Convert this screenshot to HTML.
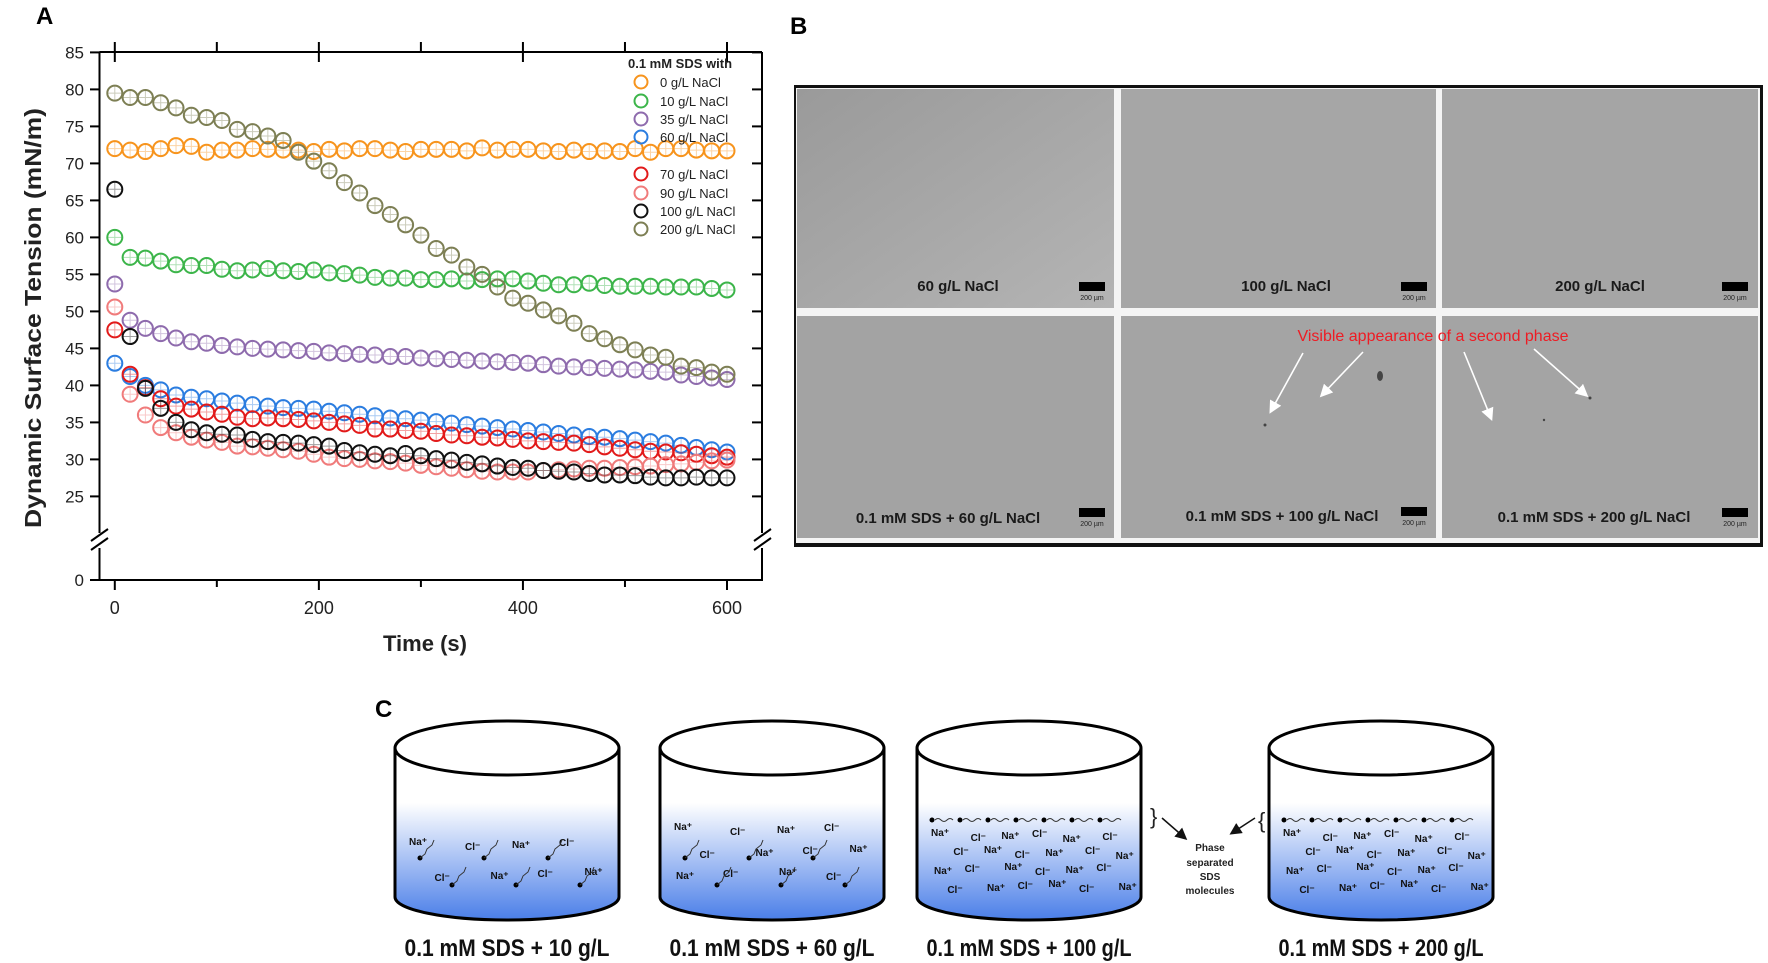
<!DOCTYPE html>
<html><head><meta charset="utf-8"><style>
html,body{margin:0;padding:0;background:#fff;}
svg{display:block;font-family:"Liberation Sans",Arial,sans-serif;}
</style></head><body>
<svg id="fig" width="1768" height="963" viewBox="0 0 1768 963" xmlns="http://www.w3.org/2000/svg">
<defs>
<linearGradient id="water" x1="0" y1="0" x2="0" y2="1">
<stop offset="0" stop-color="#ffffff"/><stop offset="1" stop-color="#4a7ee8"/>
</linearGradient>
<linearGradient id="img1" x1="0" y1="0" x2="1" y2="1">
<stop offset="0" stop-color="#9a9a9a"/><stop offset="1" stop-color="#b4b4b4"/>
</linearGradient>
<marker id="ah" markerWidth="8" markerHeight="8" refX="6" refY="4" orient="auto"><path d="M0,0 L8,4 L0,8 z" fill="#fff"/></marker>
<marker id="ahk" markerWidth="8" markerHeight="8" refX="6" refY="4" orient="auto"><path d="M0,0 L8,4 L0,8 z" fill="#111"/></marker>
</defs>

<text x="36" y="24" font-size="24" font-weight="bold">A</text>
<g id="chartA"></g>

<text x="790" y="34" font-size="24" font-weight="bold">B</text>
<g>
<rect x="794" y="85" width="969" height="462" fill="#111"/>
<rect x="796" y="88" width="964" height="455" fill="#f4f4f4"/>
<rect x="797" y="89" width="317" height="219" fill="url(#img1)"/>
<rect x="1121" y="89" width="315" height="219" fill="#a6a6a6"/>
<rect x="1442" y="89" width="316" height="219" fill="#a5a5a5"/>
<rect x="797" y="316" width="317" height="222" fill="#a3a3a3"/>
<rect x="1121" y="316" width="315" height="222" fill="#a4a4a4"/>
<rect x="1442" y="316" width="316" height="222" fill="#a4a4a4"/>
<g font-weight="bold" font-size="15" fill="#1a1a1a" text-anchor="middle">
<text x="958" y="291">60 g/L NaCl</text>
<text x="1286" y="291">100 g/L NaCl</text>
<text x="1600" y="291">200 g/L NaCl</text>
<text x="948" y="523">0.1 mM SDS + 60 g/L NaCl</text>
<text x="1282" y="521">0.1 mM SDS + 100 g/L NaCl</text>
<text x="1594" y="522">0.1 mM SDS + 200 g/L NaCl</text>
</g>
<g fill="#000">
<rect x="1079" y="282" width="26" height="9"/><rect x="1401" y="282" width="26" height="9"/><rect x="1722" y="282" width="26" height="9"/>
<rect x="1079" y="508" width="26" height="9"/><rect x="1401" y="507" width="26" height="9"/><rect x="1722" y="508" width="26" height="9"/>
</g>
<g font-size="7" fill="#222" text-anchor="middle">
<text x="1092" y="300">200 µm</text><text x="1414" y="300">200 µm</text><text x="1735" y="300">200 µm</text>
<text x="1092" y="526">200 µm</text><text x="1414" y="525">200 µm</text><text x="1735" y="526">200 µm</text>
</g>
<text x="1433" y="341" font-size="16" fill="#ee1c24" text-anchor="middle">Visible appearance of a second phase</text>
<g stroke="#fff" stroke-width="1.6" marker-end="url(#ah)">
<line x1="1303" y1="353" x2="1271" y2="411"/><line x1="1363" y1="352" x2="1322" y2="395"/>
<line x1="1464" y1="352" x2="1491" y2="418"/><line x1="1534" y1="349" x2="1586" y2="395"/>
</g>
<g fill="#444"><ellipse cx="1380" cy="376" rx="3" ry="5"/><circle cx="1265" cy="425" r="1.5"/><circle cx="1590" cy="398" r="1.5"/><circle cx="1544" cy="420" r="1.2"/></g>
</g>

<text x="375" y="717" font-size="24" font-weight="bold">C</text>
<g id="panelC"></g>
<g font-size="10" font-weight="bold" fill="#222" text-anchor="middle">
<text x="1210" y="851">Phase</text><text x="1210" y="866">separated</text><text x="1210" y="880">SDS</text><text x="1210" y="894">molecules</text>
</g>
<text x="1150" y="824" font-size="22" fill="#222">}</text>
<text x="1258" y="828" font-size="22" fill="#222">{</text>
<g stroke="#111" stroke-width="1.5" marker-end="url(#ahk)">
<line x1="1162" y1="818" x2="1185" y2="838"/><line x1="1255" y1="818" x2="1232" y2="833"/>
</g>
</svg>
<script>
const times = Array.from({length:41},(_,i)=>i*15);
const seriesNames = ["0 g/L NaCl","10 g/L NaCl","35 g/L NaCl","60 g/L NaCl","70 g/L NaCl","90 g/L NaCl","100 g/L NaCl","200 g/L NaCl"];
const seriesColors = ["#f7941d","#3cb54a","#8e6bad","#2b7de0","#e21a1a","#f07b7b","#111111","#7d7f54"];
const s0 = [72,71.8,71.6,72,72.4,72.3,71.5,71.8,71.8,72,71.9,71.8,71.8,71.6,71.9,71.7,72,72,71.8,71.6,71.9,71.9,71.9,71.7,72.1,71.8,71.9,71.9,71.7,71.6,71.8,71.6,71.7,71.6,72,71.5,72,72,71.8,71.7,71.7];
const s10 = [60,57.3,57.2,56.8,56.3,56.2,56.2,55.7,55.5,55.6,55.8,55.5,55.4,55.6,55.2,55.1,54.9,54.6,54.5,54.5,54.3,54.3,54.4,54.1,54.3,54.4,54.4,54.1,53.8,53.6,53.6,53.8,53.5,53.4,53.4,53.4,53.3,53.3,53.3,53.1,52.9];
const s35 = [53.7,48.8,47.7,47.0,46.4,45.9,45.7,45.4,45.2,45.0,44.9,44.8,44.7,44.6,44.4,44.3,44.2,44.1,43.9,43.9,43.7,43.6,43.5,43.4,43.3,43.2,43.1,43.0,42.8,42.6,42.5,42.4,42.3,42.2,42.1,41.9,41.8,41.4,41.2,41.0,40.8];
const s60 = [43,41.2,40,39.4,38.7,38.4,38.2,37.9,37.6,37.4,37.2,37.0,36.9,36.8,36.5,36.3,36.1,35.9,35.6,35.5,35.3,35.1,34.9,34.7,34.5,34.3,34.1,33.9,33.7,33.5,33.3,33.1,33.0,32.8,32.6,32.4,32.2,31.9,31.6,31.3,31.0];
const s70 = [47.5,41.5,39.7,38.2,37.2,36.8,36.4,36.1,35.7,35.5,35.6,35.5,35.4,35.2,35.0,34.8,34.6,34.1,34.1,33.9,33.8,33.5,33.3,33.2,33.0,32.9,32.7,32.5,32.4,32.3,32.2,32.0,31.7,31.5,31.3,31.1,31.0,30.9,30.7,30.5,30.3];
const s90 = [50.6,38.8,36,34.3,33.6,33.0,32.6,32.3,31.8,31.7,31.5,31.3,31.1,30.7,30.3,30.1,30.0,29.8,29.7,29.5,29.2,29.0,28.8,28.6,28.4,28.3,28.3,28.3,28.5,28.6,28.7,28.8,28.8,28.9,29.0,29.1,29.3,29.4,29.6,29.8,29.9];
const s100 = [66.5,46.6,39.6,36.9,35.0,34.0,33.6,33.4,33.3,32.7,32.4,32.3,32.2,32.0,31.8,31.2,30.9,30.7,30.5,30.8,30.5,30.1,29.9,29.6,29.4,29.1,28.9,28.8,28.5,28.4,28.3,28.1,27.9,27.9,27.8,27.6,27.5,27.5,27.6,27.5,27.5];
const s200 = [79.5,78.9,78.9,78.2,77.5,76.5,76.2,75.8,74.6,74.3,73.7,73.1,71.5,70.3,69.0,67.4,66.0,64.3,63.1,61.7,60.3,58.5,57.6,56.0,55.0,53.3,51.8,51.1,50.2,49.4,48.4,47.0,46.3,45.5,44.8,44.1,43.8,42.6,42.4,41.8,41.5];
const yTicks = [25,30,35,40,45,50,55,60,65,70,75,80,85];
const xTicks = [0,200,400,600];

const NS="http://www.w3.org/2000/svg";
function mk(tag,attrs,parent){const e=document.createElementNS(NS,tag);for(const k in attrs)e.setAttribute(k,attrs[k]);parent.appendChild(e);return e;}
const X = t => 114.8 + t*(612.2/600);
const Y = v => v===0 ? 580 : 52.4 + (85-v)*7.4;
const g = document.getElementById('chartA');
let ax = mk('path',{d:'M99.5,52 H762 M99.5,52 V533 M99.5,548 V580 H762 V548 M762,533 V52',fill:'none',stroke:'#000','stroke-width':2},g);


mk('path',{d:'M91,541 L108,529 M91,550 L108,538 M754,541 L771,529 M754,550 L771,538',stroke:'#000','stroke-width':2,fill:'none'},g);
yTicks.forEach(v=>{
  mk('line',{x1:90,x2:99.5,y1:Y(v),y2:Y(v),stroke:'#000','stroke-width':2},g);
  mk('line',{x1:752,x2:762,y1:Y(v),y2:Y(v),stroke:'#000','stroke-width':2},g);
  const t=mk('text',{x:84,y:Y(v)+6,'font-size':17,'text-anchor':'end',fill:'#222'},g);t.textContent=v;
  
  
});
mk('line',{x1:90,x2:99.5,y1:580,y2:580,stroke:'#000','stroke-width':2},g);
const z=mk('text',{x:84,y:586,'font-size':17,'text-anchor':'end',fill:'#222'},g);z.textContent='0';
[0,100,200,300,400,500,600].forEach(t=>{
  const big = t%200===0;
  mk('line',{x1:X(t),x2:X(t),y1:580,y2:big?590:587,stroke:'#000','stroke-width':2},g);
  mk('line',{x1:X(t),x2:X(t),y1:42,y2:big?62:52,stroke:'#000','stroke-width':2},g);
});
xTicks.forEach(t=>{
  const l=mk('text',{x:X(t),y:614,'font-size':18,'text-anchor':'middle',fill:'#222'},g);l.textContent=t;
  
  
});
const xt=mk('text',{x:425,y:651,'font-size':22,'font-weight':'bold','text-anchor':'middle',fill:'#222'},g);xt.textContent='Time (s)';


const yt=mk('text',{x:0,y:0,'font-size':23,'font-weight':'bold','text-anchor':'middle',fill:'#222',transform:'translate(41,318) rotate(-90)',textLength:420,lengthAdjust:'spacingAndGlyphs'},g);yt.textContent='Dynamic Surface Tension (mN/m)';


const allSeries=[s0,s10,s35,s60,s70,s90,s100,s200];
allSeries.forEach((arr,si)=>{
  const sg=mk('g',{},g);
  
  
  arr.forEach((v,i)=>{
    const cx=X(times[i]), cy=Y(v);
    mk('path',{d:`M${cx-7},${cy} H${cx+7} M${cx},${cy-7} V${cy+7}`,stroke:seriesColors[si],'stroke-opacity':0.4,'stroke-width':1},sg);
    const c=mk('circle',{cx:cx,cy:cy,r:7.5,fill:'none',stroke:seriesColors[si],'stroke-width':2},sg);
    
    
  });
});
const lg=mk('g',{},g);


const lt=mk('text',{x:628,y:68,'font-size':13,'font-weight':'bold',fill:'#222'},lg);lt.textContent='0.1 mM SDS with';
const legY=[82,101,119,137,174,193,211,229];
seriesNames.forEach((n,i)=>{
  const e=mk('g',{},lg);
  
  
  mk('circle',{cx:641,cy:legY[i],r:6.5,fill:'none',stroke:seriesColors[i],'stroke-width':2},e);
  const t=mk('text',{x:660,y:legY[i]+5,'font-size':13,fill:'#222'},e);t.textContent=n;
});

const pc=document.getElementById('panelC');
const beakers=[{x:395,lab:"0.1 mM SDS + 10 g/L",mode:0},{x:660,lab:"0.1 mM SDS + 60 g/L",mode:1},{x:917,lab:"0.1 mM SDS + 100 g/L",mode:2},{x:1269,lab:"0.1 mM SDS + 200 g/L",mode:3}];
beakers.forEach((b,bi)=>{
  const w=224, l=b.x, r=b.x+w, cx=b.x+w/2;
  const bg=mk('g',{},pc);
  
  
  mk('path',{d:`M${l},803 V897 A${w/2},23 0 0 0 ${r},897 V803 Z`,fill:'url(#water)'},bg);
  mk('path',{d:`M${l},748 V897 A${w/2},23 0 0 0 ${r},897 V748`,fill:'none',stroke:'#000','stroke-width':3},bg);
  mk('ellipse',{cx:cx,cy:748,rx:w/2,ry:27,fill:'#fff',stroke:'#000','stroke-width':3},bg);
  const cols = b.mode<2 ? 4 : 6;
  const rows = b.mode===0 ? 2 : (b.mode===1 ? 3 : 4);
  const base = b.mode===0 ? 845 : (b.mode===1 ? 830 : 836);
  const dy = b.mode===0 ? 30 : (b.mode===1 ? 22 : 17);
  let k=0;
  for(let rr=0;rr<rows;rr++){
    for(let cc=0;cc<cols;cc++){
      const tx=l+14+cc*(196/cols)+((rr%2)*(98/cols))+((k*7)%9);
      const ty=base+rr*dy+((k*5)%7);
      const t=mk('text',{x:tx,y:ty,'font-size':10,'font-weight':'bold',fill:'#111'},bg);
      t.textContent = (k+rr)%2 ? "Cl⁻" : "Na⁺";
      k++;
    }
  }
  if(b.mode>=2){
    for(let k2=0;k2<7;k2++){
      const sx=l+15+k2*28;
      mk('circle',{cx:sx,cy:820,r:2.5,fill:'#000'},bg);
      mk('path',{d:`M${sx+3},820 q3,-3 6,0 t6,0 t6,0`,fill:'none',stroke:'#333','stroke-width':1},bg);
    }
  } else {
    for(let k2=0;k2<6;k2++){
      const sx=l+25+k2*32, sy=(k2%2? 885:858);
      mk('circle',{cx:sx,cy:sy,r:2.5,fill:'#000'},bg);
      mk('path',{d:`M${sx},${sy} l5,-4 l2,-5 l5,-4 l2,-5`,fill:'none',stroke:'#333','stroke-width':1},bg);
    }
  }
  const lab=mk('text',{x:cx,y:956,'font-size':24,'font-weight':'bold','text-anchor':'middle',fill:'#111',textLength:205,lengthAdjust:'spacingAndGlyphs'},bg);
  lab.textContent=b.lab;
  
  
});
</script>
</body></html>
